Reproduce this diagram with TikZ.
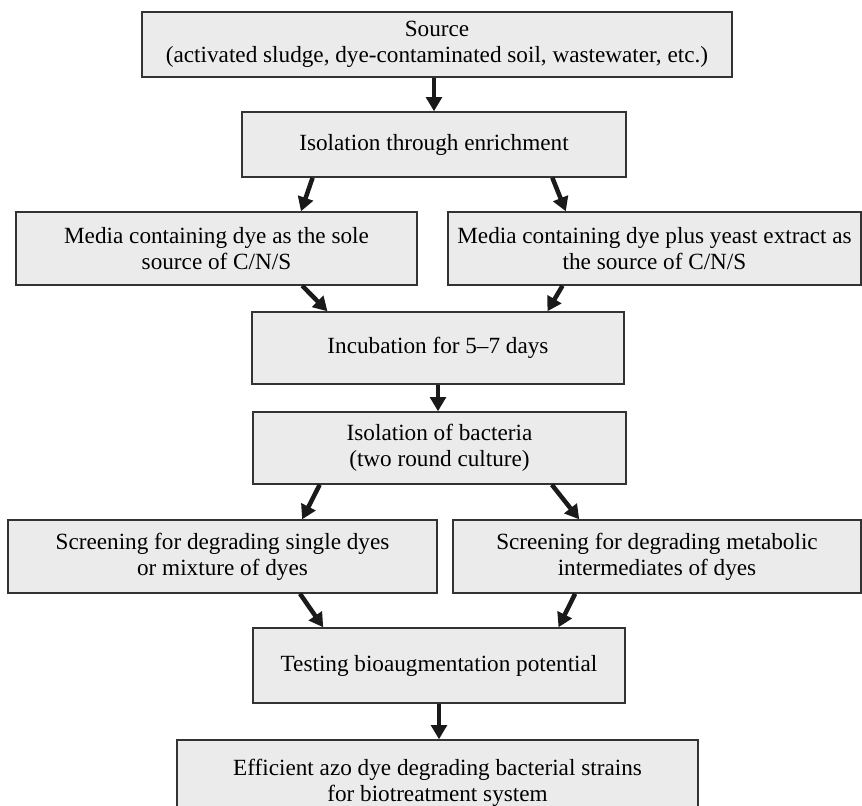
\documentclass[tikz,border=0pt]{standalone}
\usepackage{fontspec}
\setmainfont{Liberation Serif}
\usetikzlibrary{arrows.meta,calc}
\definecolor{boxfill}{HTML}{EBEBEB}
\definecolor{boxline}{HTML}{333333}
\definecolor{arrowcol}{HTML}{1A1A1A}

\begin{document}
\begin{tikzpicture}[x=0.025cm, y=-0.025cm]
    \def\u{0.025cm}
    \tikzset{box/.style={draw=boxline, fill=boxfill, line width=1pt, align=center,
                         inner sep=0pt, font=\fontsize{16.5}{18.6}\selectfont},
             flow/.style={draw=arrowcol, line width=3.2pt,
                          -{Triangle[length=10pt, width=11pt]}}}
    \useasboundingbox (0,0) rectangle (862,805);

    \node[box, minimum width=590*\u, minimum height=65*\u] (source) at (437, 44.5)
        {Source\\(activated sludge, dye-contaminated soil, wastewater, etc.)};
    \node[box, minimum width=384*\u, minimum height=65*\u] (enrich) at (434, 144.5)
        {Isolation through enrichment};

    \node[box, minimum width=401*\u, minimum height=73*\u] (mediaL) at (216.5, 248.5)
        {Media containing dye as the sole\\source of C/N/S};
    \node[box, minimum width=413*\u, minimum height=73*\u] (mediaR) at (654.5, 248.5)
        {Media containing dye plus yeast extract as\\the source of C/N/S};

    \node[box, minimum width=372*\u, minimum height=72*\u] (incub) at (438, 348)
        {Incubation for 5--7 days};
    \node[box, minimum width=373*\u, minimum height=72*\u] (isobac) at (439.5, 448)
        {Isolation of bacteria\\(two round culture)};

    \node[box, minimum width=429*\u, minimum height=73*\u] (screenL) at (222.5, 556.5)
        {Screening for degrading single dyes\\or mixture of dyes};
    \node[box, minimum width=408*\u, minimum height=73*\u] (screenR) at (657, 556.5)
        {Screening for degrading metabolic\\intermediates of dyes};

    \node[box, minimum width=372*\u, minimum height=75*\u] (test) at (439, 665.5)
        {Testing bioaugmentation potential};
    \node[box, minimum width=521*\u, minimum height=86*\u] (eff) at (437.5, 783)
        {Efficient azo dye degrading bacterial strains\\for biotreatment system};

    % arrows
    \draw[flow] (source.south -| enrich.north) -- (enrich.north);
    \draw[flow] ($(enrich.south west)!.185!(enrich.south east)$) -- ($(mediaL.north west)!.71!(mediaL.north east)$);
    \draw[flow] ($(enrich.south west)!.807!(enrich.south east)$) -- ($(mediaR.north west)!.286!(mediaR.north east)$);
    \draw[flow] ($(mediaL.south west)!.713!(mediaL.south east)$) -- ($(incub.north west)!.204!(incub.north east)$);
    \draw[flow] ($(mediaR.south west)!.278!(mediaR.south east)$) -- ($(incub.north west)!.793!(incub.north east)$);
    \draw[flow] (incub.south) -- (incub.south |- isobac.north);
    \draw[flow] ($(isobac.south west)!.18!(isobac.south east)$) -- ($(screenL.north west)!.685!(screenL.north east)$);
    \draw[flow] ($(isobac.south west)!.80!(isobac.south east)$) -- ($(screenR.north west)!.31!(screenR.north east)$);
    \draw[flow] ($(screenL.south west)!.68!(screenL.south east)$) -- ($(test.north west)!.19!(test.north east)$);
    \draw[flow] ($(screenR.south west)!.30!(screenR.south east)$) -- ($(test.north west)!.82!(test.north east)$);
    \draw[flow] (test.south) -- (test.south |- eff.north);
\end{tikzpicture}
\end{document}
